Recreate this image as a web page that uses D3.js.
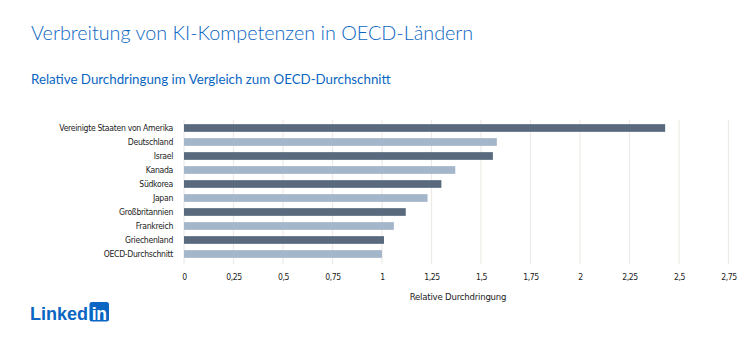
<!DOCTYPE html>
<html lang="de">
<head>
<meta charset="utf-8">
<script src="https://cdn.jsdelivr.net/npm/d3@7"></script>
<style>
  html, body { margin: 0; padding: 0; background: #ffffff; }
  svg { display: block; }
</style>
</head>
<body>
<svg id="chart" width="746" height="350"></svg>
<script>
// Länder und relative Durchdringung (OECD-Durchschnitt = 1)
const countries = [
  "Vereinigte Staaten von Amerika",
  "Deutschland",
  "Israel",
  "Kanada",
  "Südkorea",
  "Japan",
  "Großbritannien",
  "Frankreich",
  "Griechenland",
  "OECD-Durchschnitt"
];
const penetration = [2.43, 1.58, 1.56, 1.37, 1.30, 1.23, 1.12, 1.06, 1.01, 1.00];
const tickValues = [0, 0.25, 0.5, 0.75, 1, 1.25, 1.5, 1.75, 2, 2.25, 2.5, 2.75];
const tickLabels = ["0", "0,25", "0,5", "0,75", "1", "1,25", "1,5", "1,75", "2", "2,25", "2,5", "2,75"];

const titleText = "Verbreitung von KI-Kompetenzen in OECD-Ländern";
const subtitleText = "Relative Durchdringung im Vergleich zum OECD-Durchschnitt";
const axisTitle = "Relative Durchdringung";

const blue = "#0a66c2";
const darkBar = "#5a6a7e";
const lightBar = "#a3b6ca";
const gridColor = "#ecebe6";
const labelFont = "'DejaVu Sans Condensed', 'Liberation Sans', sans-serif";

const svg = d3.select("#chart");

// Titel und Untertitel
svg.append("text")
  .attr("x", 31).attr("y", 40)
  .attr("fill", blue)
  .attr("font-family", "Lato, 'Open Sans', sans-serif")
  .attr("font-weight", 300)
  .attr("font-size", 19.8)
  .text(titleText);

svg.append("text")
  .attr("x", 31).attr("y", 84)
  .attr("fill", blue)
  .attr("font-family", "Lato, 'Open Sans', sans-serif")
  .attr("font-weight", 400)
  .attr("font-size", 13.3)
  .text(subtitleText);

// Skalen
const x = d3.scaleLinear().domain([0, 2.75]).range([184, 728.5]);
const y = d3.scaleBand().domain(countries).range([121, 261]).paddingInner(0.45).paddingOuter(0.225);

// Gitterlinien
svg.append("g")
  .selectAll("line")
  .data(tickValues)
  .join("line")
  .attr("x1", d => x(d)).attr("x2", d => x(d))
  .attr("y1", 120).attr("y2", 264)
  .attr("stroke", gridColor)
  .attr("stroke-width", 1.2);

// Balken
svg.append("g")
  .selectAll("rect")
  .data(countries)
  .join("rect")
  .attr("x", x(0))
  .attr("y", d => y(d))
  .attr("width", (d, i) => x(penetration[i]) - x(0))
  .attr("height", y.bandwidth())
  .attr("fill", (d, i) => i % 2 === 0 ? darkBar : lightBar);

// Länderbeschriftungen
const yAxis = d3.axisLeft(y).tickSize(0).tickPadding(0);
const yg = svg.append("g").attr("transform", "translate(173,0)").call(yAxis);
yg.select(".domain").remove();
yg.selectAll("text")
  .attr("font-family", labelFont)
  .attr("font-size", 8.6)
  .attr("letter-spacing", -0.3)
  .attr("fill", "#222");

// x-Achse
const xAxis = d3.axisBottom(x)
  .tickValues(tickValues)
  .tickFormat((d, i) => tickLabels[i])
  .tickSize(0)
  .tickPadding(0);
const xg = svg.append("g").attr("transform", "translate(0,274)").call(xAxis);
xg.select(".domain").remove();
xg.selectAll("text")
  .attr("font-family", labelFont)
  .attr("font-size", 8.6)
  .attr("letter-spacing", -0.4)
  .attr("fill", "#222");

svg.append("text")
  .attr("x", 458).attr("y", 300)
  .attr("text-anchor", "middle")
  .attr("font-family", labelFont)
  .attr("font-size", 9.5)
  .attr("letter-spacing", -0.2)
  .attr("fill", "#222")
  .text(axisTitle);

// LinkedIn-Logo
const logo = svg.append("g");
logo.append("text")
  .attr("x", 30).attr("y", 320)
  .attr("fill", blue)
  .attr("font-family", "'Liberation Sans', Arial, sans-serif")
  .attr("font-weight", 700)
  .attr("font-size", 18)
  .text("Linked");
logo.append("rect")
  .attr("x", 89.5).attr("y", 302)
  .attr("width", 19.5).attr("height", 19.5)
  .attr("rx", 2.5)
  .attr("fill", blue);
logo.append("text")
  .attr("x", 99.2).attr("y", 319.5)
  .attr("text-anchor", "middle")
  .attr("fill", "#ffffff")
  .attr("font-family", "'Liberation Sans', Arial, sans-serif")
  .attr("font-weight", 700)
  .attr("font-size", 17.5)
  .attr("letter-spacing", -0.3)
  .text("in");
</script>
</body>
</html>
